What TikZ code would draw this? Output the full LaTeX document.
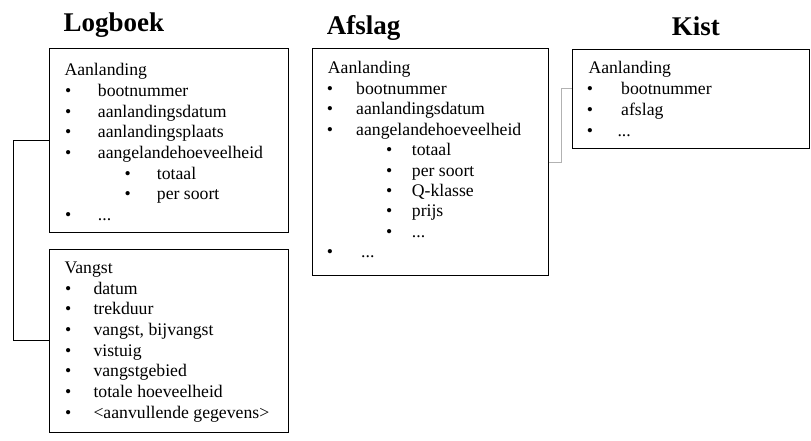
\documentclass[tikz,border=0pt]{standalone}
\usepackage{fontspec}
\setmainfont{Liberation Serif}
\begin{document}
\begin{tikzpicture}[x=1pt,y=-1pt,
  box/.style={draw=black,line width=1pt,inner sep=0pt},
  conn/.style={draw=black,line width=1pt},
  connlight/.style={draw=black!30,line width=1pt},
  title/.style={anchor=base west,inner sep=0pt,font=\fontsize{27}{30}\selectfont\bfseries},
  txt/.style={anchor=base west,inner sep=0pt,font=\fontsize{17.7}{20}\selectfont},
  bul/.style={anchor=base,inner sep=0pt,font=\fontsize{17.7}{20}\selectfont}]
\useasboundingbox (0,0) rectangle (811,441);
\newcommand\bl[5]{\node[bul] (#1b) at (#2,#4) {\textbullet};\node[txt] (#1) at (#3,#4) {#5};}
% titles
\node[title] (tlog) at (63.3,31.7) {Logboek};
\node[title] (taf) at (326.7,35) {Afslag};
\node[title] (tkist) at (671.7,36) {Kist};
% boxes
\node[box,minimum width=239,minimum height=183] (lb1) at (168.5,140.5) {};
\node[box,minimum width=239,minimum height=183] (lb2) at (168.5,340.5) {};
\node[box,minimum width=236,minimum height=226] (af) at (430.3,162) {};
\node[box,minimum width=237,minimum height=99.3] (ki) at (690.8,98.7) {};
% connectors
\coordinate (lj) at (13.3,0);
\draw[conn] (lb1.west) -| (lj |- lb1.west) |- (lb2.west);
\coordinate (kj) at (561,88.3);
\draw[connlight] (af.east) -| (kj) -- (kj -| ki.west);
% Logboek - Aanlanding
\node[txt] (l1h) at (64.3,75.7) {Aanlanding};
\bl{l1a}{68.3}{97.7}{96.4}{bootnummer}
\bl{l1b}{68.3}{97.7}{117.1}{aanlandingsdatum}
\bl{l1c}{68.3}{97.7}{137.8}{aanlandingsplaats}
\bl{l1d}{68.3}{97.7}{158.5}{aangelandehoeveelheid}
\bl{l1e}{127.7}{156.7}{179.2}{totaal}
\bl{l1f}{127.7}{156.7}{199.9}{per soort}
\bl{l1g}{68.3}{97.7}{220.6}{...}
% Logboek - Vangst
\node[txt] (l2h) at (64.3,273.3) {Vangst};
\bl{l2a}{68.3}{93.3}{294}{datum}
\bl{l2b}{68.3}{93.3}{314.7}{trekduur}
\bl{l2c}{68.3}{93.3}{335.4}{vangst, bijvangst}
\bl{l2d}{68.3}{93.3}{356.1}{vistuig}
\bl{l2e}{68.3}{93.3}{376.8}{vangstgebied}
\bl{l2f}{68.3}{93.3}{397.5}{totale hoeveelheid}
\bl{l2g}{68.3}{93.3}{418.2}{<aanvullende gegevens>}
% Afslag
\node[txt] (ah) at (327.7,74) {Aanlanding};
\bl{aa}{330}{356}{94.4}{bootnummer}
\bl{ab}{330}{356}{114.8}{aanlandingsdatum}
\bl{ac}{330}{356}{135.2}{aangelandehoeveelheid}
\bl{ad}{389.3}{411.7}{155.6}{totaal}
\bl{ae}{389.3}{411.7}{176}{per soort}
\bl{af1}{389.3}{411.7}{196.4}{Q-klasse}
\bl{ag}{389.3}{411.7}{216.8}{prijs}
\bl{ah1}{389.3}{411.7}{237.2}{...}
\bl{ai}{330}{361}{257.6}{...}
% Kist
\node[txt] (kh) at (588.3,74) {Aanlanding};
\bl{ka}{590}{621}{94.9}{bootnummer}
\bl{kb}{590}{621}{115.8}{afslag}
\bl{kc}{590}{617.3}{136.7}{...}
\end{tikzpicture}
\end{document}
